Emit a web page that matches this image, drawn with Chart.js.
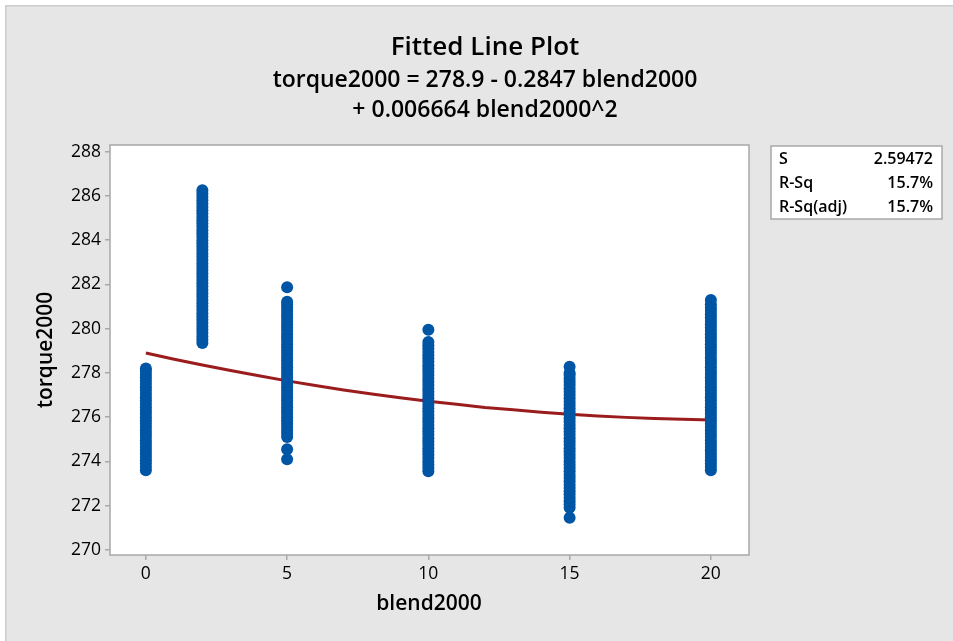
<!DOCTYPE html>
<html><head><meta charset="utf-8">
<script src="https://cdn.jsdelivr.net/npm/chart.js@4.4.1/dist/chart.umd.min.js"></script>
<style>html,body{margin:0;padding:0;background:#fff;overflow:hidden}#wrap{width:953px;height:641px}</style>
</head><body><div id="wrap"><canvas id="c" width="953" height="641"></canvas></div>
<script>
const torqueBlend0  = [273.6,273.75,273.9,274.05,274.2,274.35,274.5,274.65,274.8,274.95,275.1,275.25,275.4,275.55,275.7,275.85,276.0,276.15,276.3,276.45,276.6,276.75,276.9,277.05,277.2,277.35,277.5,277.65,277.8,277.95,278.1,278.2];
const torqueBlend2  = [279.35,279.5,279.65,279.8,279.95,280.1,280.25,280.4,280.55,280.7,280.85,281.0,281.15,281.3,281.45,281.6,281.75,281.9,282.05,282.2,282.35,282.5,282.65,282.8,282.95,283.1,283.25,283.4,283.55,283.7,283.85,284.0,284.15,284.3,284.45,284.6,284.75,284.9,285.05,285.2,285.35,285.5,285.65,285.8,285.95,286.1,286.25];
const torqueBlend5  = [274.1,274.55,275.1,275.25,275.4,275.55,275.7,275.85,276.0,276.15,276.3,276.45,276.6,276.75,276.9,277.05,277.2,277.35,277.5,277.65,277.8,277.95,278.1,278.25,278.4,278.55,278.7,278.85,279.0,279.15,279.3,279.45,279.6,279.75,279.9,280.05,280.2,280.35,280.5,280.65,280.8,280.95,281.1,281.22,281.87];
const torqueBlend10 = [273.55,273.7,273.85,274.0,274.15,274.3,274.45,274.6,274.75,274.9,275.05,275.2,275.35,275.5,275.65,275.8,275.95,276.1,276.25,276.4,276.55,276.7,276.85,277.0,277.15,277.3,277.45,277.6,277.75,277.9,278.05,278.2,278.35,278.5,278.65,278.8,278.95,279.1,279.25,279.4,279.95];
const torqueBlend15 = [271.45,271.9,272.05,272.2,272.35,272.5,272.65,272.8,272.95,273.1,273.25,273.4,273.55,273.7,273.85,274.0,274.15,274.3,274.45,274.6,274.75,274.9,275.05,275.2,275.35,275.5,275.65,275.8,275.95,276.1,276.25,276.4,276.55,276.7,276.85,277.0,277.15,277.3,277.45,277.6,277.75,277.9,278.0,278.28];
const torqueBlend20 = [273.6,273.75,273.9,274.05,274.2,274.35,274.5,274.65,274.8,274.95,275.1,275.25,275.4,275.55,275.7,275.85,276.0,276.15,276.3,276.45,276.6,276.75,276.9,277.05,277.2,277.35,277.5,277.65,277.8,277.95,278.1,278.25,278.4,278.55,278.7,278.85,279.0,279.15,279.3,279.45,279.6,279.75,279.9,280.05,280.2,280.35,280.5,280.65,280.8,280.95,281.1,281.3];
const blendLevels = [0, 2, 5, 10, 15, 20];
const torqueByBlend = [torqueBlend0, torqueBlend2, torqueBlend5, torqueBlend10, torqueBlend15, torqueBlend20];

const fitX = [0,1,2,3,4,5,6,7,8,9,10,11,12,13,14,15,16,17,18,19,20];
const fitY = [278.90,278.62,278.36,278.11,277.87,277.64,277.43,277.23,277.05,276.88,276.72,276.58,276.44,276.33,276.22,276.13,276.05,275.99,275.94,275.90,275.87];

const xTicks = [0, 5, 10, 15, 20];
const yTicks = [270, 272, 274, 276, 278, 280, 282, 284, 286, 288];

const titleText = "Fitted Line Plot";
const subtitleLines = ["torque2000 = 278.9 - 0.2847 blend2000", "+ 0.006664 blend2000^2"];
const xTitle = "blend2000";
const yTitle = "torque2000";
const statLabels = ["S", "R-Sq", "R-Sq(adj)"];
const statValues = ["2.59472", "15.7%", "15.7%"];

// ---- build datasets ----
const scatterPts = [];
blendLevels.forEach((b, i) => torqueByBlend[i].forEach(v => scatterPts.push({x: b, y: v})));
const fitPts = fitX.map((x, i) => ({x, y: fitY[i]}));

const FONT = '"Open Sans", "Noto Sans", sans-serif';

const deco = {
  id: 'deco',
  beforeDraw(chart) {
    const {ctx, chartArea: a} = chart;
    ctx.save();
    ctx.fillStyle = '#ffffff'; ctx.fillRect(0, 0, 953, 641);
    ctx.fillStyle = '#e6e6e6'; ctx.fillRect(6, 6, 947, 635);
    ctx.fillStyle = '#cccccc'; ctx.fillRect(5, 5, 948, 1.5); ctx.fillRect(5, 5, 1.5, 636);
    ctx.fillStyle = '#ffffff'; ctx.fillRect(a.left, a.top, a.right - a.left, a.bottom - a.top);
    ctx.restore();
  },
  afterDraw(chart) {
    const {ctx, chartArea: a} = chart;
    ctx.save();
    ctx.strokeStyle = '#a8a8a8'; ctx.lineWidth = 1.5;
    ctx.strokeRect(a.left, a.top, a.right - a.left, a.bottom - a.top);
    ctx.fillStyle = '#000'; ctx.textAlign = 'center'; ctx.textBaseline = 'middle';
    ctx.font = '600 26px ' + FONT;
    ctx.fillText(titleText, 485, 48);
    ctx.font = '600 23px ' + FONT;
    ctx.fillText(subtitleLines[0], 485, 80);
    ctx.fillText(subtitleLines[1], 485, 110);
    ctx.font = '600 21px ' + FONT;
    ctx.fillText(xTitle, 429, 604);
    ctx.save();
    ctx.translate(46, 350); ctx.rotate(-Math.PI / 2);
    ctx.fillText(yTitle, 0, 0);
    ctx.restore();
    ctx.fillStyle = '#fff'; ctx.fillRect(771, 146, 171, 73);
    ctx.strokeStyle = '#a8a8a8'; ctx.lineWidth = 1.5; ctx.strokeRect(771, 146, 171, 73);
    ctx.fillStyle = '#000'; ctx.font = '600 16px ' + FONT;
    statLabels.forEach((t, i) => {
      const y = 159 + i * 24;
      ctx.textAlign = 'left'; ctx.fillText(t, 779, y);
      ctx.textAlign = 'right'; ctx.fillText(statValues[i], 933, y);
    });
    ctx.restore();
  }
};

new Chart(document.getElementById('c'), {
  type: 'scatter',
  data: {
    datasets: [
      { label: 'data', data: scatterPts, order: 0, pointRadius: 6, pointHoverRadius: 6,
        backgroundColor: '#0055a5', borderColor: '#0055a5', borderWidth: 0 },
      { label: 'fit', data: fitPts, order: 1, showLine: true, pointRadius: 0, borderColor: '#9b1c1c',
        borderWidth: 3, tension: 0, fill: false }
    ]
  },
  options: {
    responsive: false, animation: false, devicePixelRatio: 1,
    layout: { padding: { left: 0, top: 145, right: 204, bottom: 0 } },
    plugins: { legend: { display: false }, tooltip: { enabled: false }, title: { display: false } },
    scales: {
      x: {
        type: 'linear', min: -1.27, max: 21.35,
        afterFit(s) { s.height = 86; },
        afterBuildTicks(s) { s.ticks = xTicks.map(v => ({value: v})); },
        grid: { drawOnChartArea: false, drawTicks: true, tickLength: 5, color: '#a8a8a8', lineWidth: 1.5 },
        border: { display: false },
        ticks: { color: '#000', padding: 4, font: { family: FONT, size: 17.5 }, maxRotation: 0 }
      },
      y: {
        type: 'linear', min: 269.77, max: 288.3,
        afterFit(s) { s.width = 110; },
        afterBuildTicks(s) { s.ticks = yTicks.map(v => ({value: v})); },
        grid: { drawOnChartArea: false, drawTicks: true, tickLength: 5, color: '#a8a8a8', lineWidth: 1.5 },
        border: { display: false },
        ticks: { color: '#000', padding: 4, font: { family: FONT, size: 17.5 } }
      }
    }
  },
  plugins: [deco]
});
</script></body></html>
